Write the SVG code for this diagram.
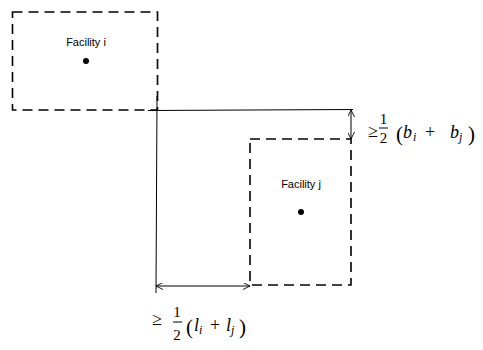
<svg xmlns="http://www.w3.org/2000/svg" width="483" height="350" viewBox="0 0 483 350">
<defs>
<style>
.box{fill:none;stroke:#000;stroke-width:1.6;stroke-dasharray:10 6}
.ln{fill:none;stroke:#000;stroke-width:1}
.lbl{font-family:"Liberation Sans",Arial,sans-serif;font-size:11px;fill:#000;text-anchor:middle}
.m{font-family:"Liberation Serif","DejaVu Serif",serif;font-size:18px;fill:#000}
.c{text-anchor:middle}
.fr{font-size:15px}
.p{font-size:21px}
.mi{font-style:italic}
.sub{font-family:"Liberation Serif","DejaVu Serif",serif;font-size:12px;font-style:italic;fill:#000}
</style>
<marker id="ah" viewBox="0 0 10 10" refX="10" refY="5" markerWidth="7" markerHeight="7" orient="auto-start-reverse" markerUnits="userSpaceOnUse">
<path d="M0,0 L10,5 L0,10" fill="none" stroke="#000" stroke-width="1.3"/>
</marker>
</defs>
<rect width="483" height="350" fill="#fff"/>
<g id="facility-i">
<rect class="box" x="12.5" y="12" width="145" height="98"/>
<text class="lbl" x="86" y="46">Facility i</text>
<circle cx="86" cy="61" r="3"/>
</g>
<g id="facility-j">
<rect class="box" x="250" y="139" width="101" height="146"/>
<text class="lbl" x="301" y="188">Facility j</text>
<circle cx="301" cy="212" r="3"/>
</g>
<g id="connectors">
<line class="ln" x1="148" y1="110.5" x2="353" y2="109.5"/>
<line class="ln" x1="157" y1="96" x2="156" y2="293"/>
<line class="ln" x1="351" y1="110" x2="351" y2="139" marker-start="url(#ah)" marker-end="url(#ah)"/>
<line class="ln" x1="156" y1="286" x2="250" y2="286" marker-start="url(#ah)" marker-end="url(#ah)"/>
</g>
<g id="label-b">
<text class="m c" x="373" y="137">≥</text>
<text class="m c fr" x="383.5" y="124">1</text>
<line x1="379" y1="128" x2="388" y2="128" stroke="#000" stroke-width="1"/>
<text class="m c fr" x="383.5" y="143">2</text>
<text class="m p" x="396" y="141">(</text>
<text class="m mi" x="403" y="138">b</text>
<text class="sub" x="413" y="141">i</text>
<text class="m c" x="430" y="138">+</text>
<text class="m mi" x="450" y="138">b</text>
<text class="sub" x="459" y="141">j</text>
<text class="m p" x="468" y="141">)</text>
</g>
<g id="label-l">
<text class="m c" x="157" y="325">≥</text>
<text class="m c fr" x="177" y="317">1</text>
<line x1="173" y1="322" x2="182" y2="322" stroke="#000" stroke-width="1"/>
<text class="m c fr" x="177" y="340">2</text>
<text class="m p" x="186" y="334">(</text>
<text class="m mi" x="194" y="331">l</text>
<text class="sub" x="199" y="334">i</text>
<text class="m c" x="215" y="331">+</text>
<text class="m mi" x="226" y="331">l</text>
<text class="sub" x="231" y="334">j</text>
<text class="m p" x="239" y="334">)</text>
</g>
</svg>
